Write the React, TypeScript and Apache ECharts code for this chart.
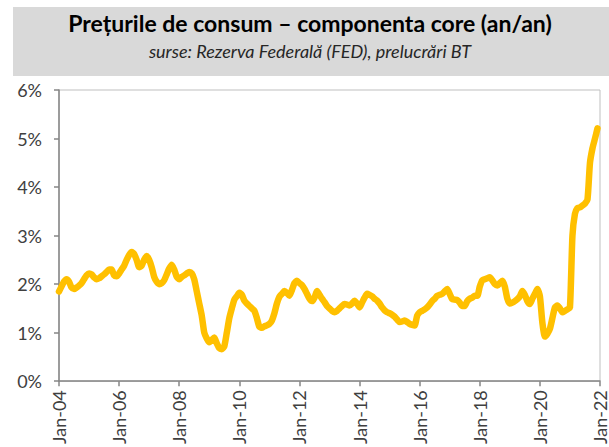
import React, { useEffect, useRef } from "react";
import * as echarts from "echarts";

const titleText = "Prețurile de consum – componenta core (an/an)";
const subtitleText = "surse: Rezerva Federală (FED), prelucrări BT";

const monthNames = ["Jan", "Feb", "Mar", "Apr", "May", "Jun", "Jul", "Aug", "Sep", "Oct", "Nov", "Dec"];
const years = [2004, 2005, 2006, 2007, 2008, 2009, 2010, 2011, 2012, 2013, 2014, 2015, 2016, 2017, 2018, 2019, 2020, 2021, 2022];

// core inflation, % y/y, monthly
const v2004 = [1.85, 1.95, 2.05, 2.1, 2.05, 1.93, 1.9, 1.93, 1.97, 2.02, 2.1, 2.18];
const v2005 = [2.22, 2.2, 2.14, 2.1, 2.12, 2.16, 2.2, 2.25, 2.3, 2.3, 2.18, 2.16];
const v2006 = [2.22, 2.3, 2.38, 2.5, 2.6, 2.66, 2.62, 2.5, 2.35, 2.38, 2.5, 2.58];
const v2007 = [2.5, 2.35, 2.15, 2.05, 2.0, 2.02, 2.08, 2.2, 2.32, 2.4, 2.3, 2.15];
const v2008 = [2.1, 2.15, 2.18, 2.22, 2.25, 2.22, 2.1, 1.85, 1.6, 1.35, 1.0, 0.88];
const v2009 = [0.8, 0.85, 0.9, 0.78, 0.68, 0.66, 0.72, 1.0, 1.3, 1.5, 1.68, 1.75];
const v2010 = [1.82, 1.78, 1.66, 1.6, 1.55, 1.5, 1.45, 1.3, 1.12, 1.1, 1.13, 1.15];
const v2011 = [1.18, 1.25, 1.4, 1.6, 1.74, 1.8, 1.86, 1.82, 1.76, 1.88, 2.02, 2.07];
const v2012 = [2.02, 1.98, 1.9, 1.8, 1.7, 1.65, 1.72, 1.86, 1.78, 1.7, 1.63, 1.55];
const v2013 = [1.5, 1.45, 1.42, 1.45, 1.5, 1.55, 1.59, 1.58, 1.56, 1.6, 1.66, 1.6];
const v2014 = [1.52, 1.62, 1.72, 1.8, 1.78, 1.75, 1.7, 1.66, 1.6, 1.52, 1.46, 1.42];
const v2015 = [1.4, 1.37, 1.33, 1.27, 1.22, 1.23, 1.25, 1.22, 1.18, 1.16, 1.15, 1.35];
const v2016 = [1.42, 1.45, 1.48, 1.52, 1.58, 1.65, 1.7, 1.76, 1.78, 1.8, 1.85, 1.9];
const v2017 = [1.8, 1.69, 1.68, 1.67, 1.62, 1.55, 1.55, 1.65, 1.7, 1.72, 1.76, 1.76];
const v2018 = [1.95, 2.08, 2.1, 2.12, 2.14, 2.08, 2.0, 1.97, 2.02, 2.07, 1.95, 1.7];
const v2019 = [1.6, 1.62, 1.65, 1.69, 1.75, 1.86, 1.78, 1.65, 1.59, 1.7, 1.8, 1.9];
const v2020 = [1.75, 1.2, 0.92, 0.98, 1.08, 1.3, 1.52, 1.56, 1.5, 1.42, 1.45, 1.48];
const v2021 = [1.52, 3.0, 3.45, 3.57, 3.58, 3.62, 3.66, 3.74, 4.5, 4.8, 5.0, 5.21];

const yTicks = [0, 1, 2, 3, 4, 5, 6];

export default function App() {
  const ref = useRef<HTMLDivElement>(null);

  useEffect(() => {
    if (!ref.current) return;
    const chart = echarts.init(ref.current, null, { renderer: "svg" });

    const categories: string[] = [];
    years.forEach((y) => {
      monthNames.forEach((m, i) => {
        if (y === 2022 && i > 0) return;
        categories.push(`${m}-${String(y).slice(2)}`);
      });
    });
    const values = [
      ...v2004, ...v2005, ...v2006, ...v2007, ...v2008, ...v2009, ...v2010, ...v2011, ...v2012,
      ...v2013, ...v2014, ...v2015, ...v2016, ...v2017, ...v2018, ...v2019, ...v2020, ...v2021,
    ];

    const labelFont = "Lato, 'Liberation Sans', sans-serif";

    chart.setOption({
      animation: false,
      backgroundColor: "#ffffff",
      graphic: [
        {
          type: "rect",
          shape: { x: 13, y: 7, width: 596, height: 69 },
          style: { fill: "#D9D9D9" },
          silent: true,
        },
        {
          type: "text",
          x: 310,
          y: 23,
          style: {
            text: titleText,
            font: "bold 23px Lato, 'Open Sans', sans-serif",
            fill: "#000000",
            textAlign: "center",
            textVerticalAlign: "middle",
          },
        },
        {
          type: "text",
          x: 310,
          y: 51,
          style: {
            text: subtitleText,
            font: "italic 18px Lato, 'Open Sans', sans-serif",
            fill: "#262626",
            textAlign: "center",
            textVerticalAlign: "middle",
          },
        },
      ],
      grid: {
        left: 59,
        right: 5,
        top: 90,
        bottom: 64,
        show: true,
        borderColor: "#BFBFBF",
        borderWidth: 1,
        containLabel: false,
      },
      xAxis: {
        type: "category",
        data: categories,
        boundaryGap: false,
        axisLine: { show: true, lineStyle: { color: "#868686", width: 1.5 } },
        axisTick: {
          show: true,
          length: 5,
          interval: (idx: number) => idx % 24 === 0,
          lineStyle: { color: "#868686", width: 1.5 },
        },
        axisLabel: {
          show: true,
          interval: (idx: number) => idx % 24 === 0,
          rotate: 90,
          margin: 9,
          color: "#404040",
          fontSize: 18,
          fontFamily: labelFont,
          showMinLabel: true,
          showMaxLabel: true,
        },
        splitLine: { show: false },
      },
      yAxis: {
        type: "value",
        min: yTicks[0],
        max: yTicks[yTicks.length - 1],
        interval: 1,
        axisLine: { show: true, lineStyle: { color: "#868686", width: 1.5 } },
        axisTick: { show: true, length: 5, lineStyle: { color: "#868686", width: 1.5 } },
        axisLabel: {
          formatter: "{value}%",
          margin: 17,
          color: "#404040",
          fontSize: 18,
          fontFamily: labelFont,
        },
        splitLine: { show: false },
      },
      series: [
        {
          type: "line",
          data: values,
          showSymbol: false,
          symbol: "none",
          smooth: 0.2,
          lineStyle: { color: "#FFC000", width: 6.5, cap: "round", join: "round" },
          clip: false,
        },
      ],
    });

    return () => chart.dispose();
  }, []);

  return (
    <div
      ref={ref}
      style={{ position: "fixed", left: 0, top: 0, width: 609, height: 447 }}
    />
  );
}
